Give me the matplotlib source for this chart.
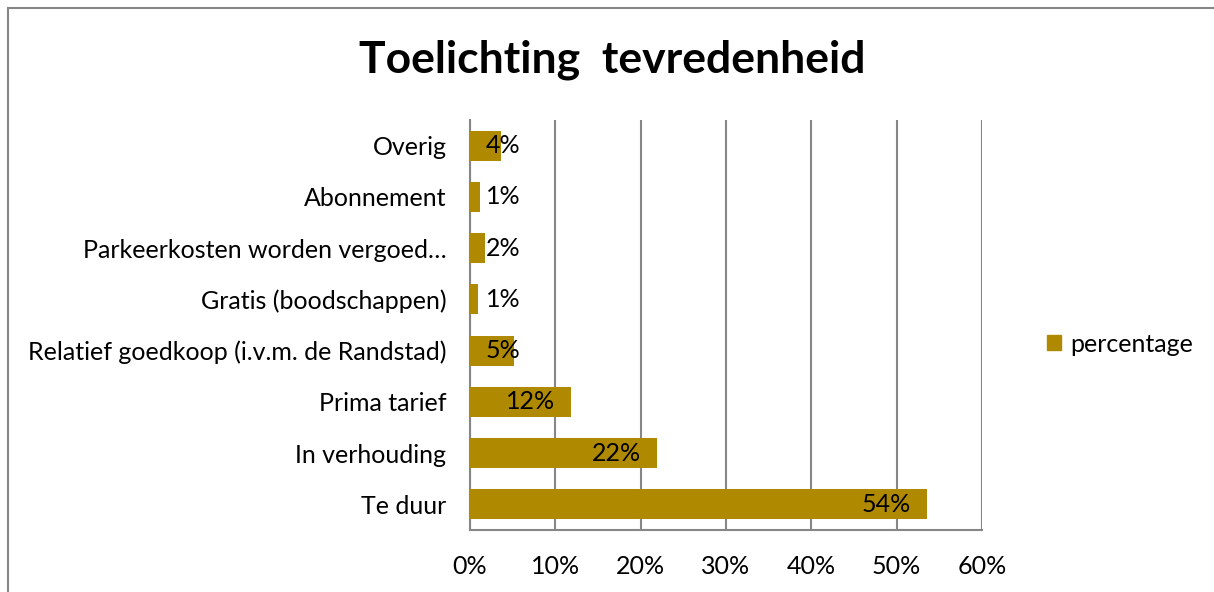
import matplotlib
matplotlib.use("Agg")
import matplotlib.pyplot as plt
from matplotlib.patches import Rectangle, Patch

categories = ["Te duur", "In verhouding", "Prima tarief",
              "Relatief goedkoop (i.v.m. de Randstad)", "Gratis (boodschappen)",
              "Parkeerkosten worden vergoed…", "Abonnement", "Overig"]
values = [53.5, 21.9, 11.8, 5.2, 0.9, 1.8, 1.2, 3.6]
labels = ["54%", "22%", "12%", "5%", "1%", "2%", "1%", "4%"]
xticks = [0, 10, 20, 30, 40, 50, 60]
xticklabels = ["0%", "10%", "20%", "30%", "40%", "50%", "60%"]
series_name = "percentage"

W, H = 1214, 592
fig = plt.figure(figsize=(W / 100, H / 100), dpi=100)
plt.rcParams['font.family'] = ['Lato', 'DejaVu Sans']

gray = "#868686"
bar_color = "#AF8A00"
fs = 18

# chart frame
fig.patches.append(Rectangle((8 / W, -0.1), 1.2, (H - 8) / H + 0.1, transform=fig.transFigure,
                             fill=False, edgecolor=gray, linewidth=1.5))

ax = fig.add_axes([470 / W, 1 - 530 / H, (982 - 470) / W, (530 - 120) / H])
y = range(len(categories))
ax.barh(y, values, height=0.59, color=bar_color, zorder=3)
ax.set_xlim(0, 60)
ax.set_ylim(-0.5, len(categories) - 0.5)
ax.set_xticks(xticks)
ax.set_xticklabels(xticklabels, fontsize=fs)
ax.set_yticks(list(y))
ax.set_yticklabels(categories, fontsize=fs)
ax.tick_params(axis='x', length=0, pad=18)
ax.tick_params(axis='y', length=0, pad=17)
ax.grid(axis='x', color=gray, linewidth=1.5, zorder=0)
for s in ["top", "right"]:
    ax.spines[s].set_visible(False)
for s in ["left", "bottom"]:
    ax.spines[s].set_color(gray)
    ax.spines[s].set_linewidth(1.5)

fig.canvas.draw()
renderer = fig.canvas.get_renderer()
px_per_unit = ((982 - 470)) / 60.0
for i, (v, lab) in enumerate(zip(values, labels)):
    t = ax.annotate(lab, (v, i), xytext=(-16, 0), textcoords='offset pixels',
                    ha='right', va='center', fontsize=fs, zorder=5)
    bb = t.get_window_extent(renderer)
    w = bb.width
    if v * px_per_unit - 16 - w < 16:
        t.remove()
        ax.annotate(lab, (0, i), xytext=(16, 0), textcoords='offset pixels',
                    ha='left', va='center', fontsize=fs, zorder=5)

fig.text(612 / W, 1 - 60 / H, "Toelichting  tevredenheid", ha='center', va='center',
         fontsize=32, fontweight='bold')

fig.legend(handles=[Patch(color=bar_color, label=series_name)], loc='center left',
           bbox_to_anchor=(1047 / W, 1 - 344 / H), frameon=False, fontsize=fs,
           handlelength=0.55, handleheight=0.55, handletextpad=0.4, borderpad=0,
           borderaxespad=0)

fig.savefig("out.png", dpi=100)
